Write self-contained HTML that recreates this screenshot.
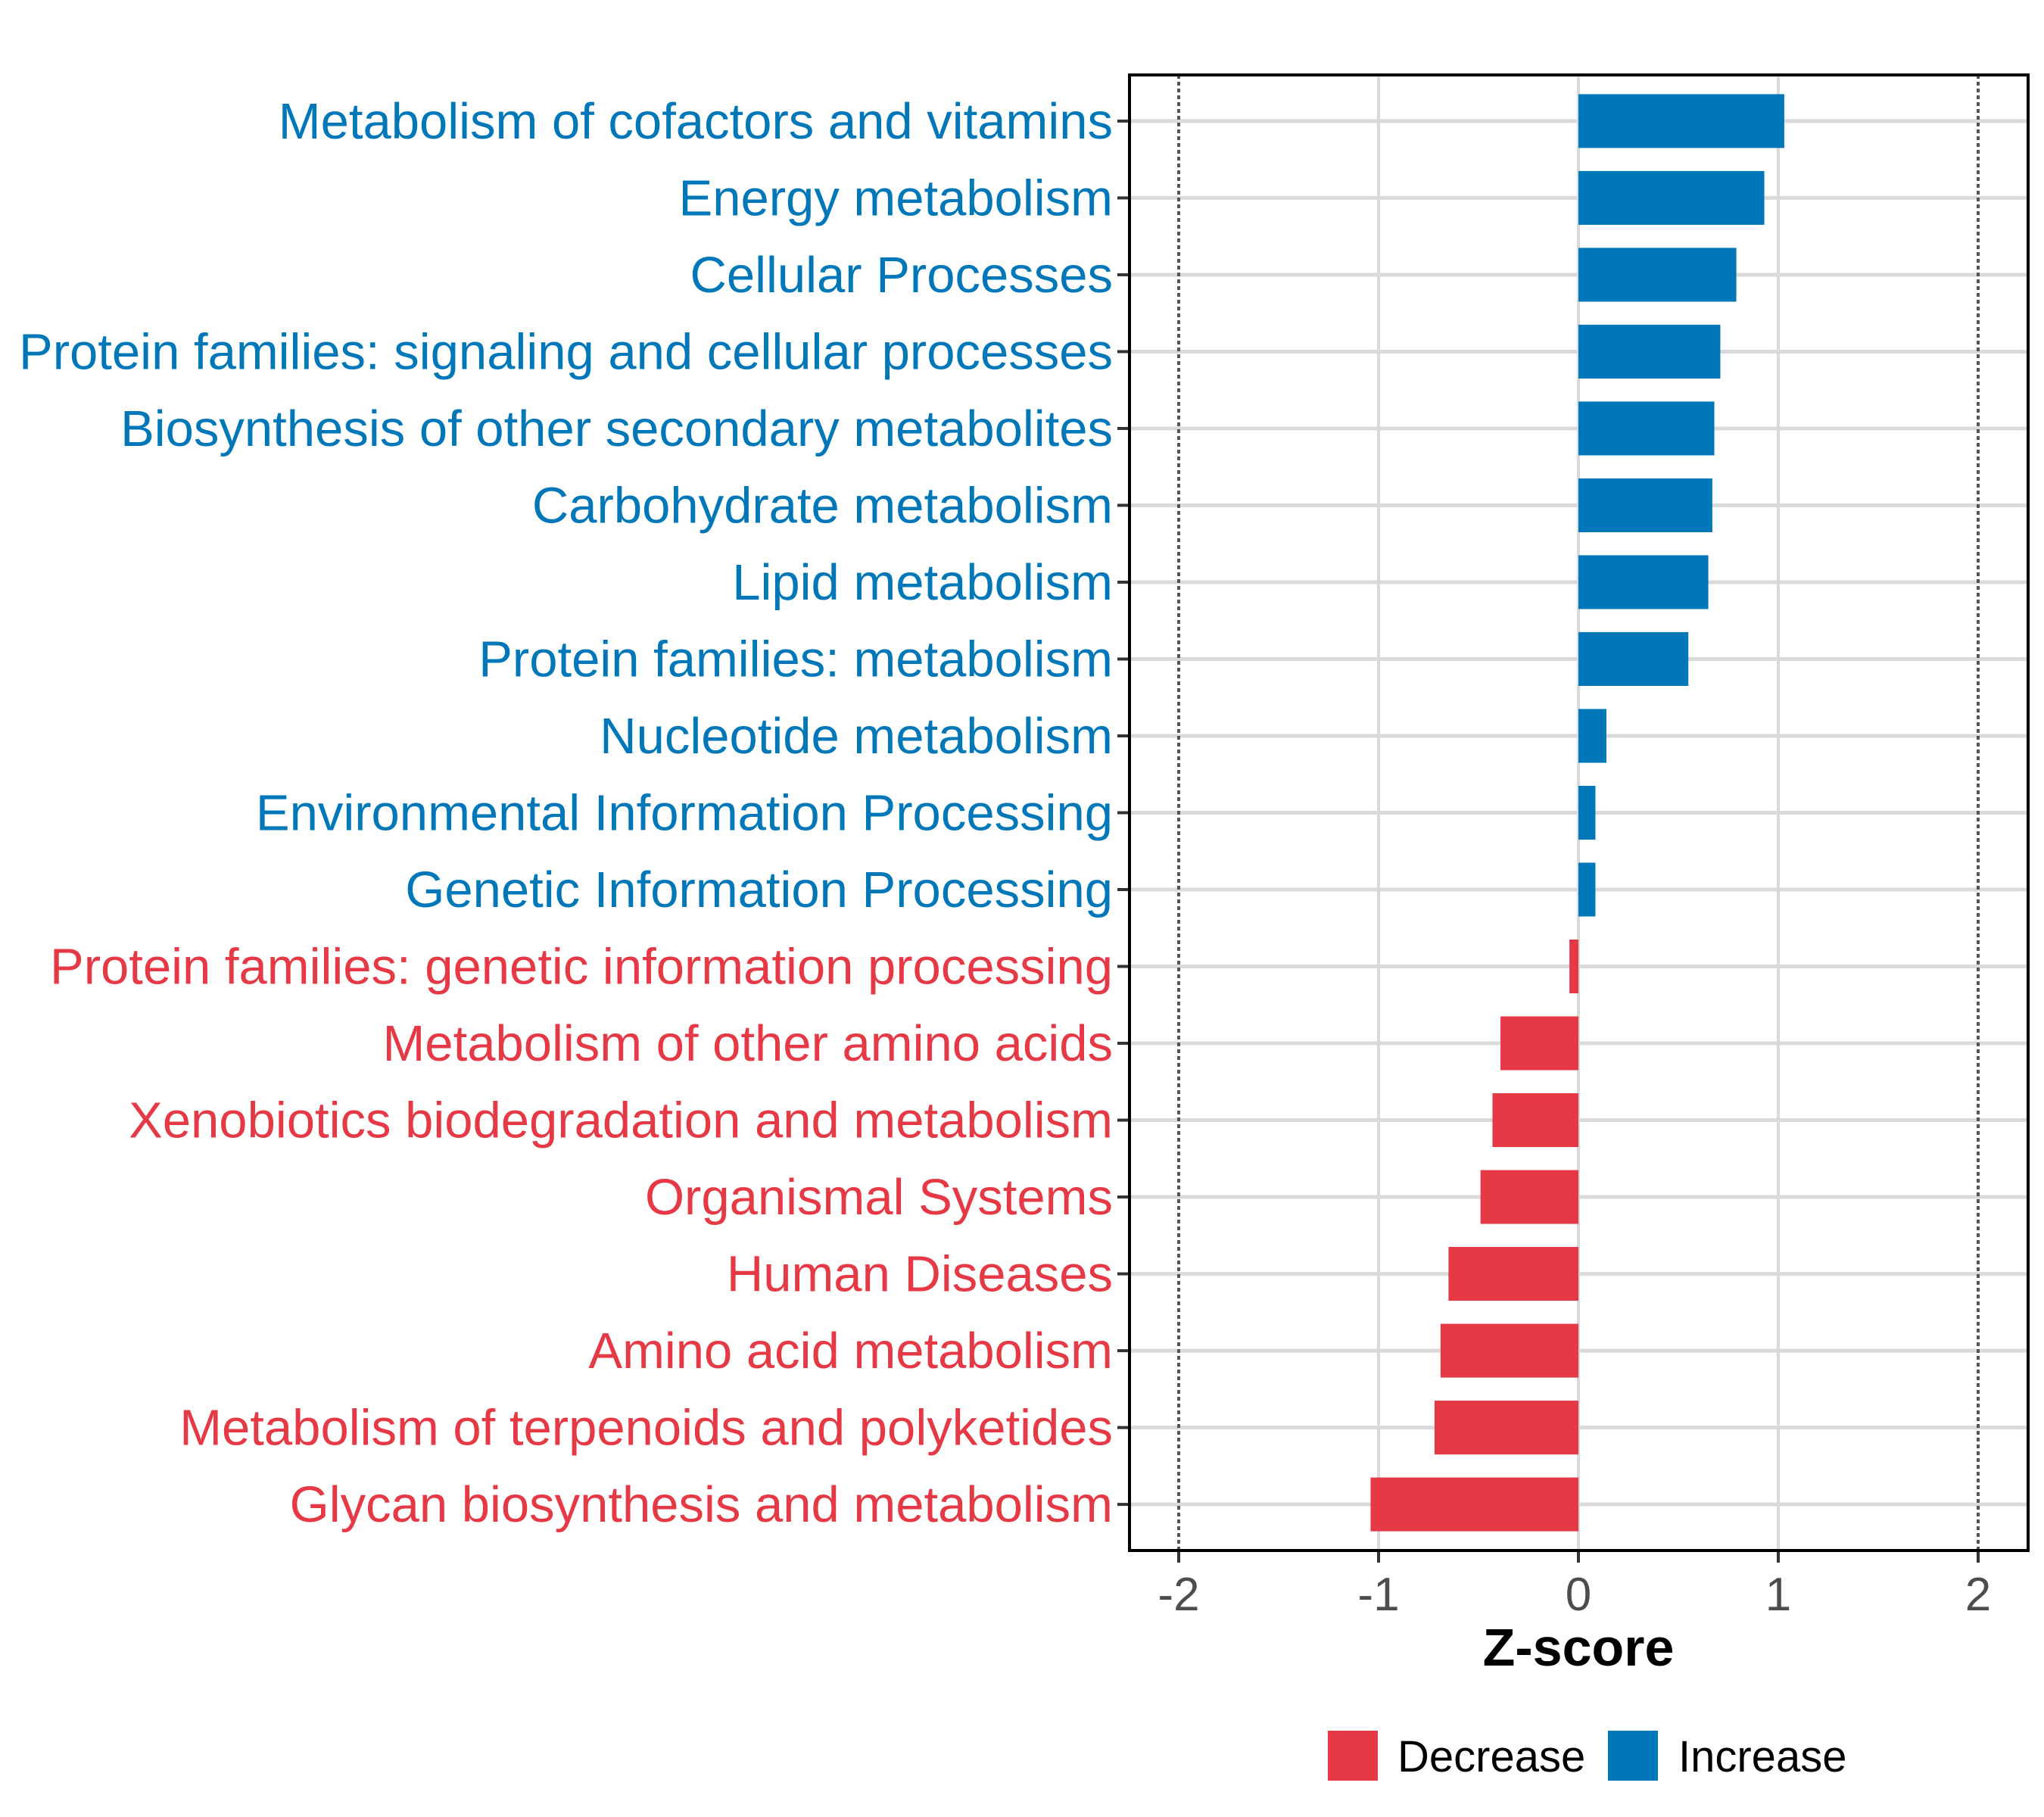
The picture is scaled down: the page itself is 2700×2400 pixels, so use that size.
<!DOCTYPE html>
<html><head><meta charset="utf-8"><style>
html,body{margin:0;padding:0;background:#fff;}
svg{display:block;font-family:"Liberation Sans",Arial,sans-serif;}
</style></head><body>
<svg id="chart" width="2700" height="2400" viewBox="0 0 2700 2400" xmlns="http://www.w3.org/2000/svg">
<rect width="2700" height="2400" fill="#fff"/>
<g id="grid"></g>
<g id="bars"></g>
<g id="ylabels"></g>
<g id="xticks"></g>
<text x="2085" y="2200" font-size="70" font-weight="bold" text-anchor="middle" fill="#000">Z-score</text>
<g>
<rect x="1754" y="2286" width="66" height="66" fill="#E63946"/>
<text x="1846" y="2340" font-size="58" fill="#000">Decrease</text>
<rect x="2124" y="2286" width="66" height="66" fill="#0077B8"/>
<text x="2217" y="2340" font-size="58" fill="#000">Increase</text>
</g>
</svg>
<script>
const categories = ["Metabolism of cofactors and vitamins","Energy metabolism","Cellular Processes","Protein families: signaling and cellular processes","Biosynthesis of other secondary metabolites","Carbohydrate metabolism","Lipid metabolism","Protein families: metabolism","Nucleotide metabolism","Environmental Information Processing","Genetic Information Processing","Protein families: genetic information processing","Metabolism of other amino acids","Xenobiotics biodegradation and metabolism","Organismal Systems","Human Diseases","Amino acid metabolism","Metabolism of terpenoids and polyketides","Glycan biosynthesis and metabolism"];
const zscores = [1.03,0.93,0.79,0.71,0.68,0.67,0.65,0.55,0.14,0.085,0.085,-0.045,-0.39,-0.43,-0.49,-0.65,-0.69,-0.72,-1.04];
const xTicks = [-2,-1,0,1,2];
const xTickLabels = ["-2","-1","0","1","2"];

const NS="http://www.w3.org/2000/svg";
const L=1492,R=2679,T=99,B=2048;
const x0=2085, unit=264;
const X=v=>x0+v*unit;
const rowStep=(B-T)/(categories.length-1+1.2);
const Y=i=>T+0.6*rowStep+i*rowStep;
const barH=rowStep*0.7;
function mk(tag,attrs,parent){const e=document.createElementNS(NS,tag);for(const k in attrs)e.setAttribute(k,attrs[k]);parent.appendChild(e);return e;}
const grid=document.getElementById('grid'),bars=document.getElementById('bars'),yl=document.getElementById('ylabels'),xt=document.getElementById('xticks');
xTicks.forEach(v=>{
  if(Math.abs(v)<2){const g=mk('line',{x1:X(v),x2:X(v),y1:T,y2:B,stroke:'#d9d9d9','stroke-width':4},grid);
  
  }
});
categories.forEach((c,i)=>{
  const g=mk('line',{x1:L,x2:R,y1:Y(i),y2:Y(i),stroke:'#d9d9d9','stroke-width':5},grid);
  
  
});
[-2,2].forEach(v=>{
  const d=mk('line',{x1:X(v),x2:X(v),y1:T,y2:B,stroke:'#555','stroke-width':4,'stroke-dasharray':'5 4'},grid);
  
  
});
categories.forEach((c,i)=>{
  const v=zscores[i];const col=v>=0?'#0077B8':'#E63946';
  const b=mk('rect',{x:Math.min(X(0),X(v)),y:Y(i)-barH/2,width:Math.abs(X(v)-X(0)),height:barH,fill:col},bars);
  
  
  const t=mk('line',{x1:L-16,x2:L,y1:Y(i),y2:Y(i),stroke:'#333','stroke-width':4},yl);
  
  
  const tx=mk('text',{x:1470,y:Y(i)+23,'font-size':67,'text-anchor':'end',fill:col},yl);
  tx.textContent=c;
  
  
});
const fr=mk('rect',{x:L,y:T,width:R-L,height:B-T,fill:'none',stroke:'#000','stroke-width':4},grid.parentNode);


xTicks.forEach((v,i)=>{
  const t=mk('line',{x1:X(v),x2:X(v),y1:B,y2:B+16,stroke:'#333','stroke-width':4},xt);
  
  
  const tx=mk('text',{x:X(v),y:2127,'font-size':62,'text-anchor':'middle',fill:'#4d4d4d'},xt);
  tx.textContent=xTickLabels[i];
  
  
});
</script>
</body></html>
